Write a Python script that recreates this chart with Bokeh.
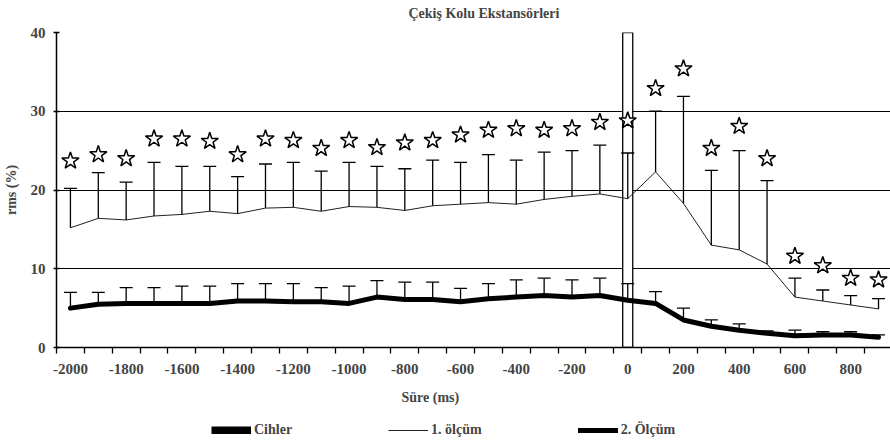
from bokeh.plotting import figure
from bokeh.models import (ColumnDataSource, Whisker, TeeHead, FixedTicker,
                          Legend, LegendItem, Label)
from bokeh.layouts import column
from bokeh.embed import file_html
from bokeh.resources import INLINE

# ---------------- data ----------------
time_ms = [-2000, -1900, -1800, -1700, -1600, -1500, -1400, -1300, -1200, -1100,
           -1000, -900, -800, -700, -600, -500, -400, -300, -200, -100,
           0, 100, 200, 300, 400, 500, 600, 700, 800, 900]

olcum1_mean = [15.2, 16.4, 16.2, 16.7, 16.9, 17.3, 17.0, 17.7, 17.8, 17.3,
               17.9, 17.8, 17.4, 18.0, 18.2, 18.4, 18.2, 18.8, 19.2, 19.5,
               18.9, 22.3, 18.3, 13.0, 12.4, 10.6, 6.4, 5.9, 5.4, 4.9]
olcum1_sd = [5.0, 5.8, 4.8, 6.8, 6.1, 5.7, 4.7, 5.6, 5.7, 5.1,
             5.6, 5.2, 5.3, 5.8, 5.3, 6.1, 5.6, 6.0, 5.8, 6.2,
             5.8, 7.7, 13.6, 9.5, 12.6, 10.6, 2.4, 1.4, 1.2, 1.3]

olcum2_mean = [5.0, 5.5, 5.6, 5.6, 5.6, 5.6, 5.9, 5.9, 5.8, 5.8,
               5.6, 6.4, 6.1, 6.1, 5.8, 6.2, 6.4, 6.6, 6.4, 6.6,
               6.0, 5.6, 3.5, 2.7, 2.2, 1.8, 1.5, 1.6, 1.6, 1.3]
olcum2_sd = [2.0, 1.5, 2.0, 2.0, 2.2, 2.2, 2.2, 2.2, 2.3, 1.8,
             2.2, 2.1, 2.2, 2.2, 1.7, 1.9, 2.2, 2.2, 2.2, 2.2,
             2.1, 1.5, 1.5, 0.8, 0.8, 0.3, 0.7, 0.4, 0.4, 0.3]

significance_y = [23.7, 24.5, 24.0, 26.5, 26.5, 26.2, 24.5, 26.5, 26.3, 25.3,
                  26.3, 25.4, 26.0, 26.3, 27.0, 27.6, 27.8, 27.6, 27.8, 28.6,
                  28.8, 32.9, 35.4, 25.3, 28.1, 24.0, 11.6, 10.4, 8.8, 8.6]

device_x = [0]
device_top = [40]

x_tick_values = [-2000, -1800, -1600, -1400, -1200, -1000, -800, -600,
                 -400, -200, 0, 200, 400, 600, 800]
x_tick_labels = ["-2000", "-1800", "-1600", "-1400", "-1200", "-1000", "-800",
                 "-600", "-400", "-200", "0", "200", "400", "600", "800"]
y_tick_values = [0, 10, 20, 30, 40]
y_grid_values = [10, 20, 30]

title_text = "Çekiş Kolu Ekstansörleri"
x_label = "Süre (ms)"
y_label = "rms (%)"
legend_labels = ["Cihler", "1. ölçüm", "2. Ölçüm"]

FONT = "Liberation Serif"


def strip(height, x_range=(0, 1), y_range=(0, 1)):
    f = figure(width=890, height=height, x_range=x_range, y_range=y_range,
               output_backend="svg", toolbar_location=None, title=None,
               x_axis_type=None, y_axis_type=None,
               min_border_left=0, min_border_right=0,
               min_border_top=0, min_border_bottom=0)
    f.outline_line_color = None
    f.xgrid.visible = False
    f.ygrid.visible = False
    f.background_fill_color = "white"
    f.border_fill_color = "white"
    return f


# ---------------- title strip ----------------
top = strip(22)
top.add_layout(Label(x=352, y=9, x_units="screen", y_units="screen",
                     text=title_text, text_font=FONT, text_font_style="bold",
                     text_font_size="14px", text_baseline="middle"))

# ---------------- main figure ----------------
p = figure(width=890, height=365, x_range=(-2050, 943), y_range=(0, 40),
           output_backend="svg", toolbar_location=None, title=None,
           min_border_left=55, min_border_right=0,
           min_border_top=10, min_border_bottom=40)
p.outline_line_color = None
p.background_fill_color = "white"
p.border_fill_color = "white"

src1 = ColumnDataSource(dict(
    x=time_ms, m=olcum1_mean,
    u=[m + s for m, s in zip(olcum1_mean, olcum1_sd)]))
src2 = ColumnDataSource(dict(
    x=time_ms, m=olcum2_mean,
    u=[m + s for m, s in zip(olcum2_mean, olcum2_sd)]))
src_dev = ColumnDataSource(dict(x=device_x, top=device_top))

# device marker bar
p.vbar(x="x", top="top", bottom=0, width=36, source=src_dev,
       fill_color="white", line_color="black", line_width=1.3)

# 1. measurement
p.line("x", "m", source=src1, line_color="#222222", line_width=1)
p.add_layout(Whisker(source=src1, base="x", lower="m", upper="u",
                     dimension="height", line_color="black", line_width=1.3,
                     level="glyph", lower_head=None,
                     upper_head=TeeHead(size=13, line_color="black",
                                        line_width=1.3)))

# 2. measurement
p.line("x", "m", source=src2, line_color="black", line_width=5,
       line_join="round", line_cap="round")
p.add_layout(Whisker(source=src2, base="x", lower="m", upper="u",
                     dimension="height", line_color="black", line_width=1.3,
                     level="glyph", lower_head=None,
                     upper_head=TeeHead(size=13, line_color="black",
                                        line_width=1.3)))

# significance stars
p.scatter(time_ms, significance_y, marker="star", size=18,
          fill_color="white", line_color="black", line_width=1.5)

# axes
p.yaxis.ticker = FixedTicker(ticks=y_tick_values)
p.yaxis.major_tick_in = 3
p.yaxis.major_tick_out = 3
p.yaxis.minor_tick_line_color = None
p.yaxis.axis_line_width = 1.5
p.yaxis.axis_line_color = "black"
p.yaxis.major_tick_line_color = "black"
p.yaxis.major_tick_line_width = 1.3
p.yaxis.axis_label = y_label
p.yaxis.axis_label_standoff = 9
p.yaxis.axis_label_text_font = FONT
p.yaxis.axis_label_text_font_style = "bold"
p.yaxis.axis_label_text_font_size = "14px"
p.yaxis.major_label_text_font = FONT
p.yaxis.major_label_text_font_style = "bold"
p.yaxis.major_label_text_font_size = "15px"
p.yaxis.major_label_standoff = 8

boundaries = [t - 50 for t in time_ms] + [time_ms[-1] + 50]
p.xaxis.ticker = FixedTicker(ticks=x_tick_values, minor_ticks=boundaries)
p.xaxis.major_label_overrides = dict(zip(x_tick_values, x_tick_labels))
p.xaxis.major_tick_line_color = None
p.xaxis.minor_tick_in = 0
p.xaxis.minor_tick_out = 6
p.xaxis.minor_tick_line_color = "black"
p.xaxis.minor_tick_line_width = 1.3
p.xaxis.axis_line_width = 1.5
p.xaxis.axis_line_color = "black"
p.xaxis.major_label_text_font = FONT
p.xaxis.major_label_text_font_style = "bold"
p.xaxis.major_label_text_font_size = "15px"
p.xaxis.major_label_standoff = 10

p.xgrid.visible = False
p.ygrid.ticker = FixedTicker(ticks=y_grid_values)
p.ygrid.grid_line_color = "black"
p.ygrid.grid_line_width = 1

# ---------------- x-label + legend strip ----------------
# The same series are drawn here with ranges that exclude the data, so only
# the legend swatches appear.
bot = strip(56, x_range=(5000, 5001), y_range=(500, 501))
bot.add_layout(Label(x=345, y=46, x_units="screen", y_units="screen",
                     text=x_label, text_font=FONT, text_font_style="bold",
                     text_font_size="14px", text_baseline="middle"))

r_dev = bot.line("x", "top", source=src_dev, line_color="black",
                 line_width=8, line_cap="butt")
r1 = bot.line("x", "m", source=src1, line_color="#222222", line_width=1)
r2 = bot.line("x", "m", source=src2, line_color="black", line_width=5,
              line_cap="round")

legend = Legend(items=[LegendItem(label=legend_labels[0], renderers=[r_dev]),
                       LegendItem(label=legend_labels[1], renderers=[r1]),
                       LegendItem(label=legend_labels[2], renderers=[r2])],
                orientation="horizontal", location=(155, 5),
                glyph_width=40, glyph_height=8, spacing=96, label_standoff=3,
                label_text_font=FONT, label_text_font_style="bold",
                label_text_font_size="14px",
                background_fill_alpha=0, border_line_color=None,
                padding=0, margin=0)
bot.add_layout(legend)

layout = column(top, p, bot, spacing=0)
open("out.html", "w").write(file_html(layout, INLINE))
